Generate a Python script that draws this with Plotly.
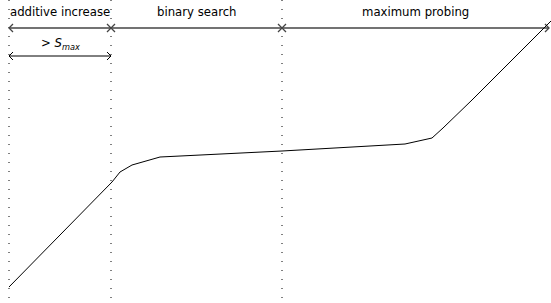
import plotly.graph_objects as go

# Curve (x, y) in diagram units (origin top-left, y downward)
curve_x = [9, 112, 120, 132, 160, 282, 405, 432, 443, 472, 551]
curve_y = [287, 182, 172, 165, 157, 151, 144, 138, 128, 100, 21]

# Phase boundaries and labels
bounds = [9, 111, 282, 549]
phase_labels = ["additive increase", "binary search", "maximum probing"]
phase_arrow_y = 28
smax_label = "&gt; <i>S<sub>max</sub></i>"
smax_span = [9, 111]
smax_y = 56

W, H = 551, 303
FONT = dict(size=13, color="black", family="DejaVu Sans Condensed, Liberation Sans")
fig = go.Figure()

# dotted vertical boundary lines
for bx in bounds[:3]:
    fig.add_trace(go.Scatter(x=[bx, bx], y=[0, H], mode="lines",
                             line=dict(color="black", width=1, dash="1px,8px"),
                             hoverinfo="skip", showlegend=False))

def double_arrow(x0, x1, y, color, width):
    hx, hy = 4, 4
    xs = [x0, x1, None,
          x0 + hx, x0, x0 + hx, None,
          x1 - hx, x1, x1 - hx]
    ys = [y, y, None,
          y - hy, y, y + hy, None,
          y - hy, y, y + hy]
    fig.add_trace(go.Scatter(x=xs, y=ys, mode="lines",
                             line=dict(color=color, width=width),
                             hoverinfo="skip", showlegend=False))

for i in range(3):
    double_arrow(bounds[i], bounds[i + 1], phase_arrow_y, "#444", 1.3)
    fig.add_annotation(x=(bounds[i] + bounds[i + 1]) / 2, y=11, text=phase_labels[i],
                       showarrow=False, font=FONT)

double_arrow(smax_span[0], smax_span[1], smax_y, "black", 1)
fig.add_annotation(x=(smax_span[0] + smax_span[1]) / 2, y=43, text=smax_label,
                   showarrow=False, font=FONT)

fig.add_trace(go.Scatter(x=curve_x, y=curve_y, mode="lines",
                         line=dict(color="black", width=1),
                         hoverinfo="skip", showlegend=False))

fig.update_xaxes(range=[0, W], visible=False, fixedrange=True)
fig.update_yaxes(range=[H, 0], visible=False, fixedrange=True)
fig.update_layout(width=W, height=H, margin=dict(l=0, r=0, t=0, b=0),
                  plot_bgcolor="white", paper_bgcolor="white")

fig.write_html("out.html", config={"displayModeBar": False},
               post_script="document.body.style.margin='0px';document.body.style.overflow='hidden';")
